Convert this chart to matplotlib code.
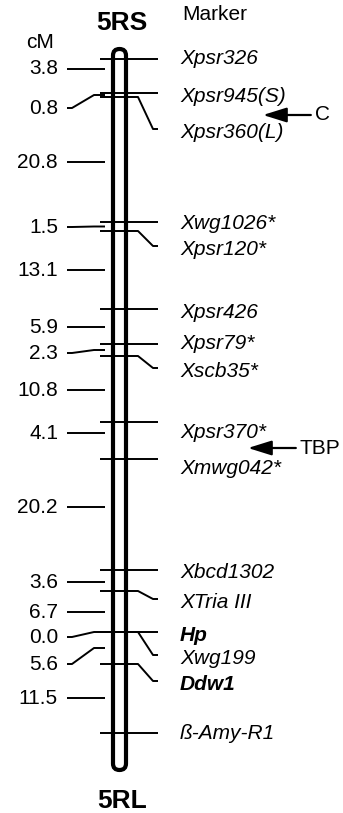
import matplotlib.pyplot as plt
from matplotlib.patches import FancyBboxPatch

# ==============================
# DATA
# ==============================
markers = ["Xpsr326", "Xpsr945(S)", "Xpsr360(L)", "Xwg1026*", "Xpsr120*",
           "Xpsr426", "Xpsr79*", "Xscb35*", "Xpsr370*", "Xmwg042*",
           "Xbcd1302", "XTria III", "Hp", "Xwg199", "Ddw1", "ß-Amy-R1"]
# drawn position of each marker along the chromosome (map units, top = 0)
marker_pos = [59, 93, 97, 222, 231, 309, 344, 356, 422, 459,
              570, 591, 632, 632, 664, 733]
# where each marker name sits
label_pos = [58, 96, 132, 223, 249, 312, 343, 371, 432, 468,
             572, 602, 635, 658, 684, 733]
bold_markers = ["Hp", "Ddw1"]

# genetic distances (cM) between consecutive markers
intervals = [3.8, 0.8, 20.8, 1.5, 13.1, 5.9, 2.3, 10.8, 4.1, 20.2,
             3.6, 6.7, 0.0, 5.6, 11.5]
interval_label_pos = [69, 108, 162, 227, 270, 327, 353, 390, 433, 507,
                      582, 612, 637, 664, 698]

# arrows pointing at the map
arrow_labels = ["C", "TBP"]
arrow_pos = [115, 448]

FONT = "Liberation Sans"
FS = 15

# ==============================
# FIGURE (1 data unit = 1 pixel)
# ==============================
fig = plt.figure(figsize=(3.43, 8.13), dpi=100)
ax = fig.add_axes([0, 0, 1, 1])
ax.set_xlim(0, 343)
ax.set_ylim(813, 0)
ax.axis("off")

# chromosome body
top, bottom = 49, 770
chrom = FancyBboxPatch((113, top), 13, bottom - top,
                       boxstyle="round,pad=0,rounding_size=6.5",
                       facecolor="white", edgecolor="black", lw=3.0, zorder=2)
ax.add_patch(chrom)

ax.text(122, 23, "5RS", ha="center", va="center", fontsize=19,
        fontweight="bold", family=FONT)
ax.text(122, 801, "5RL", ha="center", va="center", fontsize=19,
        fontweight="bold", family=FONT)
ax.text(40, 42, "cM", ha="center", va="center", fontsize=FS, family=FONT)
ax.text(182, 15, "Marker", ha="left", va="center", fontsize=FS, family=FONT)

# marker lines and names (right side)
for name, y, ly in zip(markers, marker_pos, label_pos):
    end = ly if abs(ly - y) > 10 else y
    if end == y:
        xs, ys = [100, 158], [y, y]
    else:
        xs, ys = [100, 138, 153, 158], [y, y, end - 3, end - 3]
    ax.plot(xs, ys, color="black", lw=1.4, zorder=3, solid_capstyle="butt")
    weight = "bold" if name in bold_markers else "normal"
    ax.text(180, ly, name, ha="left", va="center", fontsize=FS,
            style="italic", fontweight=weight, family=FONT)

# interval distances (left side)
for i, (d, ly) in enumerate(zip(intervals, interval_label_pos)):
    y1, y2 = marker_pos[i], marker_pos[i + 1]
    mid = (y1 + y2) / 2
    if y2 - y1 < 20 or abs(ly - mid) > 10:
        xs, ys = [67, 72, 94, 105], [ly, ly, mid, mid]
    else:
        xs, ys = [67, 105], [ly, ly]
    ax.plot(xs, ys, color="black", lw=1.4, zorder=3, solid_capstyle="butt")
    ax.text(58, ly, f"{d:.1f}", ha="right", va="center", fontsize=FS,
            family=FONT)

# arrows
arrow_tip = {"C": 263, "TBP": 248}
for lab, y in zip(arrow_labels, arrow_pos):
    ax.annotate(lab, xy=(arrow_tip[lab], y),
                xytext=(arrow_tip[lab] + 52, y),
                ha="left", va="center", fontsize=FS, family=FONT,
                arrowprops=dict(arrowstyle="-|>,head_length=0.8,head_width=0.25",
                                mutation_scale=18, lw=1.6, color="black",
                                shrinkA=1, shrinkB=0))

plt.savefig("out.png", dpi=100, facecolor="white")
plt.close()
